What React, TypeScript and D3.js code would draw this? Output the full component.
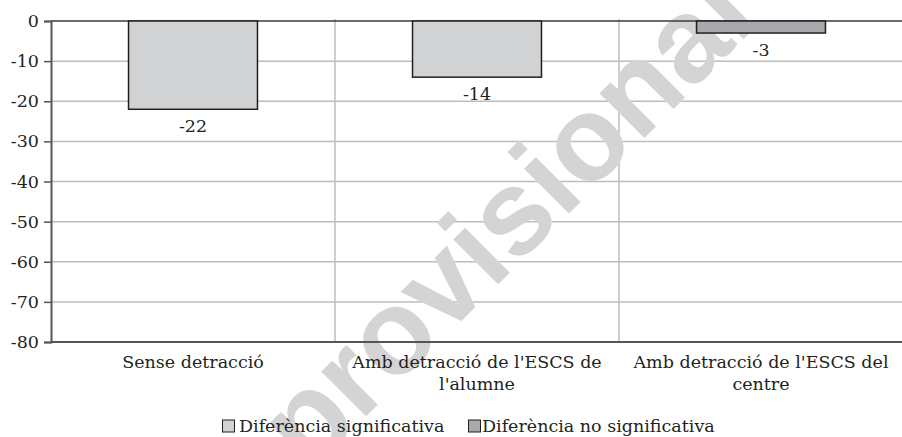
import React, { useEffect, useRef } from 'react'
import * as d3 from 'd3'

const categories = ['Sense detracció', "Amb detracció de l'ESCS de l'alumne", "Amb detracció de l'ESCS del centre"]
const values = [-22, -14, -3]
const significant = [true, true, false]
const yTicks = [0, -10, -20, -30, -40, -50, -60, -70, -80]
const legendLabels = ['Diferència significativa', 'Diferència no significativa']

const FONT = '"DejaVu Serif", "Liberation Serif", serif'

function wrap(sel: any, width: number) {
  sel.each(function (this: SVGTextElement) {
    const text = d3.select(this)
    const words = text.text().split(/\s+/)
    const x = text.attr('x')
    const y = text.attr('y')
    text.text(null)
    let line: string[] = []
    let lineNo = 0
    let tspan = text.append('tspan').attr('x', x).attr('y', y)
    words.forEach(w => {
      line.push(w)
      tspan.text(line.join(' '))
      if ((tspan.node() as SVGTSpanElement).getComputedTextLength() > width && line.length > 1) {
        line.pop()
        tspan.text(line.join(' '))
        line = [w]
        lineNo++
        tspan = text.append('tspan').attr('x', x).attr('y', +y + lineNo * 22).text(w)
      }
    })
  })
}

export default function App() {
  const ref = useRef<SVGSVGElement>(null)

  useEffect(() => {
    const width = 902
    const height = 437
    const left = 51
    const right = 903
    const top = 21
    const bottom = 342

    const svg = d3.select(ref.current)
    svg.selectAll('*').remove()
    svg.attr('width', width).attr('height', height)

    const y = d3.scaleLinear().domain([-80, 0]).range([bottom, top])
    const band = d3.scaleBand().domain(categories).range([left, right])
    const x = d3.scaleBand().domain(categories).range([left, right]).paddingInner(0.546).paddingOuter(0.273)

    // grid
    svg
      .selectAll('.grid')
      .data(yTicks.filter(t => t !== 0 && t !== -80))
      .enter()
      .append('line')
      .attr('x1', left)
      .attr('x2', right)
      .attr('y1', d => y(d))
      .attr('y2', d => y(d))
      .attr('stroke', '#bdbdbd')
      .attr('stroke-width', 1.5)

    svg
      .selectAll('.vgrid')
      .data(categories.slice(1))
      .enter()
      .append('line')
      .attr('x1', d => band(d)!)
      .attr('x2', d => band(d)!)
      .attr('y1', top - 2)
      .attr('y2', bottom)
      .attr('stroke', '#bdbdbd')
      .attr('stroke-width', 1.5)

    // watermark (cut by the edges, as in the original)
    svg
      .append('text')
      .attr('transform', 'translate(505,218) rotate(-45)')
      .attr('text-anchor', 'middle')
      .attr('dominant-baseline', 'central')
      .attr('font-family', '"Liberation Sans", Arial, sans-serif')
      .attr('font-weight', 'bold')
      .attr('font-size', 120)
      .attr('fill', '#d4d4d4')
      .text('provisional')

    // axis lines
    svg
      .append('line')
      .attr('x1', left)
      .attr('x2', right)
      .attr('y1', y(0))
      .attr('y2', y(0))
      .attr('stroke', '#3a3a3a')
      .attr('stroke-width', 1.5)
    svg
      .append('line')
      .attr('x1', left)
      .attr('x2', right)
      .attr('y1', y(-80))
      .attr('y2', y(-80))
      .attr('stroke', '#555')
      .attr('stroke-width', 2)

    const axis = svg
      .append('g')
      .attr('transform', 'translate(' + left + ',0)')
      .call(
        d3
          .axisLeft(y)
          .tickValues(yTicks)
          .tickSize(7)
          .tickPadding(5)
          .tickFormat(d => String(d))
      )
    axis.select('.domain').attr('stroke', '#555').attr('stroke-width', 2)
    axis.selectAll('.tick line').attr('stroke', '#555').attr('stroke-width', 1.5)
    axis
      .selectAll('.tick text')
      .attr('font-family', FONT)
      .attr('font-size', 17.5)
      .attr('fill', '#231f20')

    // bars
    svg
      .selectAll('.bar')
      .data(values)
      .enter()
      .append('rect')
      .attr('x', (d, i) => x(categories[i])!)
      .attr('width', x.bandwidth())
      .attr('y', y(0))
      .attr('height', d => y(d) - y(0))
      .attr('fill', (d, i) => (significant[i] ? '#d1d2d4' : '#a7a9ac'))
      .attr('stroke', '#231f20')
      .attr('stroke-width', 1.5)

    svg
      .selectAll('.val')
      .data(values)
      .enter()
      .append('text')
      .attr('x', (d, i) => x(categories[i])! + x.bandwidth() / 2)
      .attr('y', d => y(d) + 17)
      .attr('text-anchor', 'middle')
      .attr('dominant-baseline', 'central')
      .attr('font-family', FONT)
      .attr('font-size', 17.5)
      .attr('fill', '#231f20')
      .text(d => String(d))

    // category labels
    svg
      .selectAll('.cat')
      .data(categories)
      .enter()
      .append('text')
      .attr('x', d => band(d)! + band.bandwidth() / 2)
      .attr('y', 368)
      .attr('text-anchor', 'middle')
      .attr('font-family', FONT)
      .attr('font-size', 17.5)
      .attr('fill', '#231f20')
      .text(d => d)
      .call(wrap, 276)

    // legend
    const legend = svg.append('g').attr('transform', 'translate(222,0)')
    const items = legend
      .selectAll('.leg')
      .data(legendLabels)
      .enter()
      .append('g')
      .attr('transform', (d, i) => 'translate(' + i * 246 + ',0)')
    items
      .append('rect')
      .attr('x', 0.5)
      .attr('y', 420)
      .attr('width', 12)
      .attr('height', 12)
      .attr('fill', (d, i) => (i === 0 ? '#d1d2d4' : '#a7a9ac'))
      .attr('stroke', '#231f20')
      .attr('stroke-width', 1)
    items
      .append('text')
      .attr('x', (d, i) => (i === 0 ? 17 : 14))
      .attr('y', 432)
      .attr('font-family', FONT)
      .attr('font-size', 17.5)
      .attr('fill', '#231f20')
      .text(d => d)
  }, [])

  return <svg ref={ref} style={{ position: 'absolute', left: 0, top: 0 }}></svg>
}
